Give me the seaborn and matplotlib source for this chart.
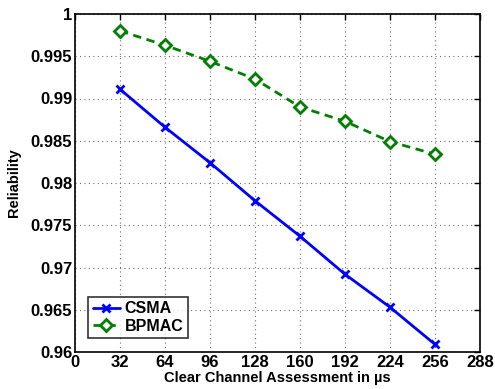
import matplotlib
matplotlib.use("Agg")
import matplotlib.pyplot as plt
import seaborn as sns
import pandas as pd

cca = [32, 64, 96, 128, 160, 192, 224, 256]
csma = [0.9911, 0.9866, 0.9824, 0.9779, 0.9737, 0.9692, 0.9653, 0.9609]
bpmac = [0.9980, 0.9963, 0.9944, 0.9923, 0.9890, 0.9873, 0.9849, 0.9834]
xticks = [0, 32, 64, 96, 128, 160, 192, 224, 256, 288]
yticks = [0.96, 0.965, 0.97, 0.975, 0.98, 0.985, 0.99, 0.995, 1.0]
ytick_labels = ["0.96", "0.965", "0.97", "0.975", "0.98", "0.985", "0.99", "0.995", "1"]

sns.set_style("white")
plt.rcParams['font.family'] = ['Liberation Sans', 'DejaVu Sans']
plt.rcParams['font.weight'] = 'bold'
plt.rcParams['text.color'] = 'black'
plt.rcParams['axes.labelcolor'] = 'black'
plt.rcParams['xtick.color'] = 'black'
plt.rcParams['ytick.color'] = 'black'

df = pd.DataFrame({
    "cca": cca * 2,
    "rel": csma + bpmac,
    "proto": ["CSMA"] * len(cca) + ["BPMAC"] * len(cca),
})

fig = plt.figure(figsize=(4.95, 3.89), dpi=100)
ax = fig.add_axes([75/495, 1 - 352/389, (480-75)/495, (352-14)/389])

blue = (0, 0, 1)
green = (0, 0.5, 0)
sns.lineplot(data=df[df.proto == "CSMA"], x="cca", y="rel", ax=ax, color=blue,
             lw=2, marker="x", markersize=6, markeredgewidth=2, markeredgecolor=blue,
             label="CSMA")
sns.lineplot(data=df[df.proto == "BPMAC"], x="cca", y="rel", ax=ax, color=green,
             lw=2, linestyle=(0, (3, 2)), marker="D", markersize=6.5, markeredgewidth=2,
             markeredgecolor=green, markerfacecolor="white", label="BPMAC")

ax.set_xlim(0, 288)
ax.set_ylim(0.96, 1.0)
ax.set_xticks(xticks)
ax.set_xticklabels([str(t) for t in xticks])
ax.set_yticks(yticks)
ax.set_yticklabels(ytick_labels)
ax.grid(True, linestyle=(0, (1, 3)), color="#707070", lw=0.8)
ax.tick_params(direction="in", top=True, right=True, length=4, width=1,
               labelsize=12, pad=2, colors="black")
for lbl in ax.get_xticklabels() + ax.get_yticklabels():
    lbl.set_fontweight("bold")
for s in ax.spines.values():
    s.set_color("black")
    s.set_linewidth(1.2)
ax.set_xlabel("Clear Channel Assessment in µs", fontsize=10.5, fontweight="bold",
              labelpad=1, color="black")
ax.set_ylabel("Reliability", fontsize=10.5, fontweight="bold", labelpad=7, color="black")

leg = ax.legend(loc="lower left", bbox_to_anchor=(0.032, 0.04), frameon=True, fancybox=False,
                edgecolor="black", fontsize=11.5, handlelength=1.7, borderpad=0.3,
                labelspacing=0.15, handletextpad=0.3, borderaxespad=0)
leg.get_frame().set_linewidth(1.2)
for t in leg.get_texts():
    t.set_fontweight("bold")
    t.set_color("black")

fig.savefig("out.png", dpi=100)
